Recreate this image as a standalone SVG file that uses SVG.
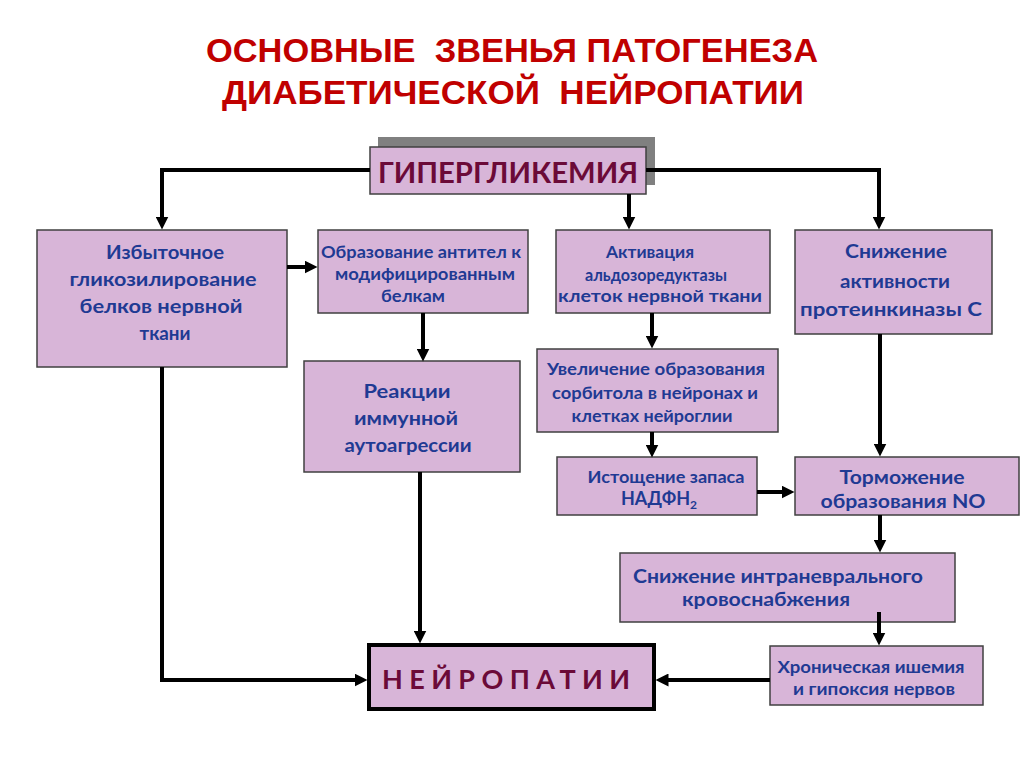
<svg xmlns="http://www.w3.org/2000/svg" width="1024" height="767" viewBox="0 0 1024 767">
<style>
.title{font-family:"Liberation Sans",Arial,sans-serif;font-weight:bold;font-size:34px;fill:#C00000;text-anchor:middle;white-space:pre}
.box{fill:#D8B5D8;stroke:#404040;stroke-width:1.5}
.t{font-family:Lato,"Open Sans","Liberation Sans",sans-serif;font-weight:bold;fill:#1F3A93;text-anchor:middle}
.main{font-family:Lato,"Open Sans","Liberation Sans",sans-serif;font-weight:bold;fill:#6B0A38}
.con{fill:none;stroke:#000;stroke-width:4}
</style>
<defs>
<marker id="arr" viewBox="0 0 12 12" refX="6" refY="6" markerWidth="13" markerHeight="13" markerUnits="userSpaceOnUse" orient="auto">
<path d="M0,0 L12,6 L0,12 z" fill="#000"/>
</marker>
</defs>
<rect width="1024" height="767" fill="#fff"/>
<g id="title">
<text class="title" x="512" y="62" textLength="612" lengthAdjust="spacingAndGlyphs">ОСНОВНЫЕ  ЗВЕНЬЯ ПАТОГЕНЕЗА</text>
<text class="title" x="513" y="104" textLength="582" lengthAdjust="spacingAndGlyphs">ДИАБЕТИЧЕСКОЙ  НЕЙРОПАТИИ</text>
</g>
<g id="hyperglycemia">
<rect x="378" y="137" width="277" height="48" fill="#808080"/>
<rect class="box" x="370" y="147" width="276" height="47"/>
<text class="main" x="508" y="183" font-size="29" text-anchor="middle" textLength="260" lengthAdjust="spacingAndGlyphs">ГИПЕРГЛИКЕМИЯ</text>
</g>
<g id="glycosylation">
<rect class="box" x="37" y="230" width="250" height="137"/>
<text class="t" font-size="19"><tspan x="165" y="259" textLength="118" lengthAdjust="spacingAndGlyphs">Избыточное</tspan><tspan x="163" y="286" textLength="187" lengthAdjust="spacingAndGlyphs">гликозилирование</tspan><tspan x="161" y="313" textLength="163" lengthAdjust="spacingAndGlyphs">белков нервной</tspan><tspan x="165" y="340" textLength="51" lengthAdjust="spacingAndGlyphs">ткани</tspan></text>
</g>
<g id="antibodies">
<rect class="box" x="318" y="230" width="210" height="83"/>
<text class="t" font-size="17"><tspan x="421" y="258" textLength="200" lengthAdjust="spacingAndGlyphs">Образование антител к</tspan><tspan x="425" y="280" textLength="180" lengthAdjust="spacingAndGlyphs">модифицированным</tspan><tspan x="413" y="302" textLength="64" lengthAdjust="spacingAndGlyphs">белкам</tspan></text>
</g>
<g id="autoaggression">
<rect class="box" x="304" y="361" width="216" height="111"/>
<text class="t" font-size="19"><tspan x="407" y="398" textLength="87" lengthAdjust="spacingAndGlyphs">Реакции</tspan><tspan x="406" y="425" textLength="104" lengthAdjust="spacingAndGlyphs">иммунной</tspan><tspan x="408" y="452" textLength="127" lengthAdjust="spacingAndGlyphs">аутоагрессии</tspan></text>
</g>
<g id="aldose">
<rect class="box" x="556" y="230" width="214" height="83"/>
<text class="t" font-size="17"><tspan x="650" y="258" textLength="88" lengthAdjust="spacingAndGlyphs">Активация</tspan><tspan x="656" y="281" textLength="142" lengthAdjust="spacingAndGlyphs">альдозоредуктазы</tspan><tspan x="660" y="302" textLength="204" lengthAdjust="spacingAndGlyphs">клеток нервной ткани</tspan></text>
</g>
<g id="pkc">
<rect class="box" x="795" y="230" width="197" height="104"/>
<text class="t" font-size="19"><tspan x="896" y="258" textLength="102" lengthAdjust="spacingAndGlyphs">Снижение</tspan><tspan x="895" y="288" textLength="110" lengthAdjust="spacingAndGlyphs">активности</tspan><tspan x="891" y="316" textLength="182" lengthAdjust="spacingAndGlyphs">протеинкиназы С</tspan></text>
</g>
<g id="sorbitol">
<rect class="box" x="537" y="349" width="241" height="83"/>
<text class="t" font-size="17"><tspan x="656" y="375" textLength="218" lengthAdjust="spacingAndGlyphs">Увеличение образования</tspan><tspan x="655" y="399" textLength="206" lengthAdjust="spacingAndGlyphs">сорбитола в нейронах и</tspan><tspan x="652" y="422" textLength="161" lengthAdjust="spacingAndGlyphs">клетках нейроглии</tspan></text>
</g>
<g id="nadph">
<rect class="box" x="557" y="457" width="200" height="58"/>
<text class="t" font-size="17" x="666" y="483" textLength="157" lengthAdjust="spacingAndGlyphs">Истощение запаса</text>
<text class="t" font-size="18" x="659" y="505">НАДФН<tspan font-size="12" dy="4">2</tspan></text>
</g>
<g id="no">
<rect class="box" x="795" y="457" width="224" height="58"/>
<text class="t" font-size="19"><tspan x="902" y="484" textLength="125" lengthAdjust="spacingAndGlyphs">Торможение</tspan><tspan x="903" y="508" textLength="165" lengthAdjust="spacingAndGlyphs">образования NO</tspan></text>
</g>
<g id="bloodsupply">
<rect class="box" x="620" y="553" width="335" height="69"/>
<text class="t" font-size="19"><tspan x="778" y="583" textLength="290" lengthAdjust="spacingAndGlyphs">Снижение интраневрального</tspan><tspan x="766" y="606" textLength="168" lengthAdjust="spacingAndGlyphs">кровоснабжения</tspan></text>
</g>
<g id="ischemia">
<rect class="box" x="770" y="646" width="213" height="59"/>
<text class="t" font-size="17"><tspan x="871" y="673" textLength="187" lengthAdjust="spacingAndGlyphs">Хроническая ишемия</tspan><tspan x="874" y="695" textLength="162" lengthAdjust="spacingAndGlyphs">и гипоксия нервов</tspan></text>
</g>
<g id="neuropathy">
<rect x="369" y="645" width="285" height="64" fill="#D8B5D8" stroke="#000" stroke-width="4"/>
<text class="main" x="382" y="689" font-size="27" textLength="248" lengthAdjust="spacing">НЕЙРОПАТИИ</text>
</g>
<g id="connectors" class="con" marker-end="url(#arr)">
<path d="M370,170 H162 V223"/>
<path d="M629,194 V223"/>
<path d="M646,170 H879 V223"/>
<path d="M287,267 H311"/>
<path d="M423,313 V355"/>
<path d="M652,313 V342"/>
<path d="M652,432 V451"/>
<path d="M757,492 H788"/>
<path d="M880,334 V450"/>
<path d="M880,515 V546"/>
<path d="M879,612 V639"/>
<path d="M770,680 H662"/>
<path d="M162,367 V680 H361"/>
<path d="M420,472 V637"/>
</g>
</svg>
